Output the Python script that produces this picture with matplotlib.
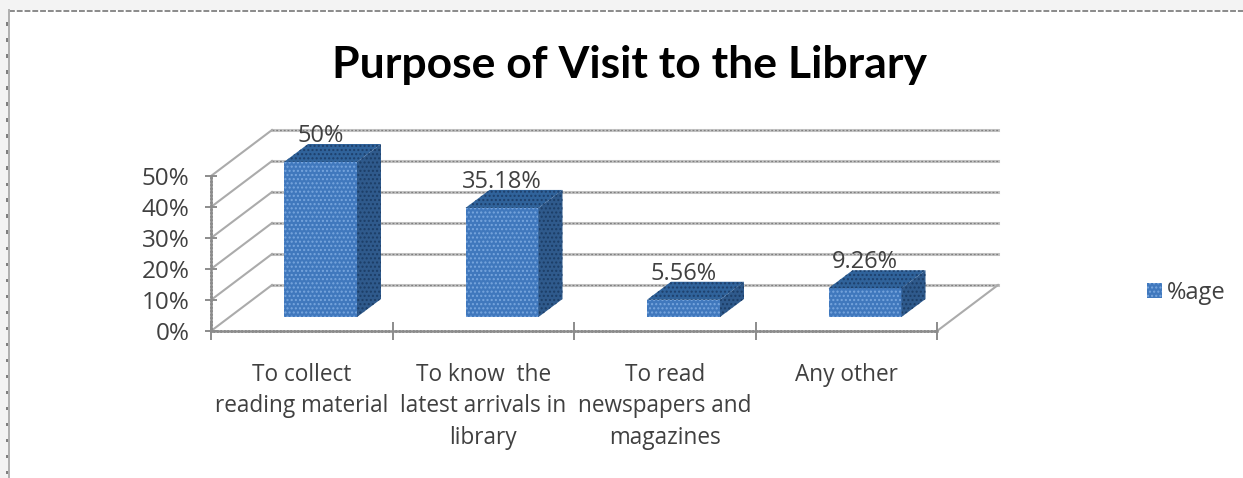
import matplotlib
matplotlib.use("Agg")
import matplotlib.pyplot as plt
from matplotlib.patches import Patch, Polygon, Rectangle

categories = ["To collect\nreading material", "To know  the\nlatest arrivals in\nlibrary",
              "To read\nnewspapers and\nmagazines", "Any other"]
values = [50, 35.18, 5.56, 9.26]
value_labels = ["50%", "35.18%", "5.56%", "9.26%"]
y_ticks = [0, 10, 20, 30, 40, 50]
y_tick_labels = ["0%", "10%", "20%", "30%", "40%", "50%"]
series_name = "%age"
chart_title = "Purpose of Visit to the Library"

W, H = 1243, 478
FRONT = "#4078bd"
SIDE = "#2f5a8c"
TOP = "#30639b"
TEXT = "#404040"

fig = plt.figure(figsize=(W / 100, H / 100), dpi=100, facecolor="white")
# plot box in pixels: floor front edge 211..937 at y=331, 50% tick at y=176
ax = fig.add_axes([211 / W, 1 - 331 / H, 726 / W, 155 / H])
ax.set_xlim(0, 4)
ax.set_ylim(0, 50)
ax.patch.set_visible(False)
for name in ["top", "right"]:
    ax.spines[name].set_visible(False)
for name in ["left", "bottom"]:
    ax.spines[name].set_color("#8c8c8c")
    ax.spines[name].set_linewidth(1.8)
    ax.spines[name].set_linestyle((0, (0.8, 0.6)))

# oblique offsets in data units
wall_dx, wall_dy = 61 / 181.5, 46 / 3.1
bar_dx, bar_dy = 18.75 / 181.5, 14 / 3.1
depth_dx, depth_dy = 24 / 181.5, 18 / 3.1
bar_w = 73 / 181.5

# back wall gridlines and the slanted side wall
for t in y_ticks:
    ax.plot([wall_dx, 4 + wall_dx], [t + wall_dy, t + wall_dy], color="#c4c4c4", lw=2.2, clip_on=False, zorder=1)
    ax.plot([wall_dx, 4 + wall_dx], [t + wall_dy, t + wall_dy], color="#808080", lw=0.9, ls=(0, (1.5, 1.5)),
            clip_on=False, zorder=1)
    ax.plot([0, wall_dx], [t, t + wall_dy], color="#ababab", lw=1.5, clip_on=False, zorder=1)
ax.plot([4, 4 + wall_dx], [0, wall_dy], color="#ababab", lw=1.5, clip_on=False, zorder=1)

# bars: front face plus top and side faces
for i, v in enumerate(values):
    x0 = i + 0.5 + bar_dx - bar_w / 2
    x1 = x0 + bar_w
    ax.bar(x0 + bar_w / 2, v, bar_w, bottom=bar_dy, color=FRONT, edgecolor="#78a6de", linewidth=0,
           hatch="....", clip_on=False, zorder=3)
    top = v + bar_dy
    ax.add_patch(Polygon([[x0, top], [x1, top], [x1 + depth_dx, top + depth_dy], [x0 + depth_dx, top + depth_dy]],
                         facecolor=TOP, edgecolor="#1d3f6b", linewidth=0, hatch="....", clip_on=False, zorder=3))
    ax.add_patch(Polygon([[x1, bar_dy], [x1 + depth_dx, bar_dy + depth_dy], [x1 + depth_dx, top + depth_dy], [x1, top]],
                         facecolor=SIDE, edgecolor="#1c3d66", linewidth=0, hatch="....", clip_on=False, zorder=3))
    # 50% sits above the axes box, so annotation clipping has to stay off
    ax.annotate(value_labels[i], (i + 0.5 + bar_dx, top), xytext=(0, 26), textcoords="offset pixels",
                ha="center", va="center", fontsize=17, color=TEXT, family="Open Sans", zorder=5,
                annotation_clip=False)

ax.set_yticks(y_ticks)
ax.set_yticklabels(y_tick_labels, fontsize=17.5, color=TEXT, family="Open Sans")
ax.set_xticks(range(5))
ax.set_xticklabels([])
ax.set_xticks([0.5, 1.5, 2.5, 3.5], minor=True)
ax.set_xticklabels(categories, minor=True, fontsize=16.3, color=TEXT, family="Open Sans", linespacing=1.41, va="top")
ax.tick_params(axis="x", which="minor", length=0, pad=23)
ax.tick_params(axis="x", which="major", length=13, color="#8c8c8c", width=1.4, direction="inout")
ax.tick_params(axis="y", length=9, color="#8c8c8c", width=1.4, direction="inout", pad=11)

fig.text(630 / W, 1 - 65 / H, chart_title, ha="center", va="center", fontsize=32, fontweight="bold",
         family="Lato", color="black")

fig.legend(handles=[Patch(facecolor=FRONT, edgecolor="#78a6de", linewidth=0, hatch="....", label=series_name)],
           loc="center left", bbox_to_anchor=(1147 / W, 1 - 293 / H), frameon=False,
           handlelength=0.62, handleheight=0.62, handletextpad=0.22, borderpad=0, borderaxespad=0, labelcolor=TEXT,
           prop={"family": "Open Sans", "size": 17})

# page margin and dotted page border around the chart
fig.add_artist(Rectangle((0, 1 - 10 / H), 1, 10 / H, transform=fig.transFigure, facecolor="#f3f3f3", lw=0))
fig.add_artist(Rectangle((0, 0), 9 / W, 1, transform=fig.transFigure, facecolor="#f3f3f3", lw=0))
fig.add_artist(plt.Line2D([9 / W, 1], [1 - 10.5 / H, 1 - 10.5 / H], color="#8a8a8a", lw=1.4, ls=(0, (3, 1))))
fig.add_artist(plt.Line2D([9 / W, 9 / W], [0, 1 - 10 / H], color="#b0b0b0", lw=1.4))
for k in range(24, H, 16):
    fig.add_artist(Rectangle((6 / W, 1 - (k + 1.5) / H), 3 / W, 3 / H, transform=fig.transFigure,
                             facecolor="#808080", lw=0))

fig.savefig("out.png", dpi=100)
